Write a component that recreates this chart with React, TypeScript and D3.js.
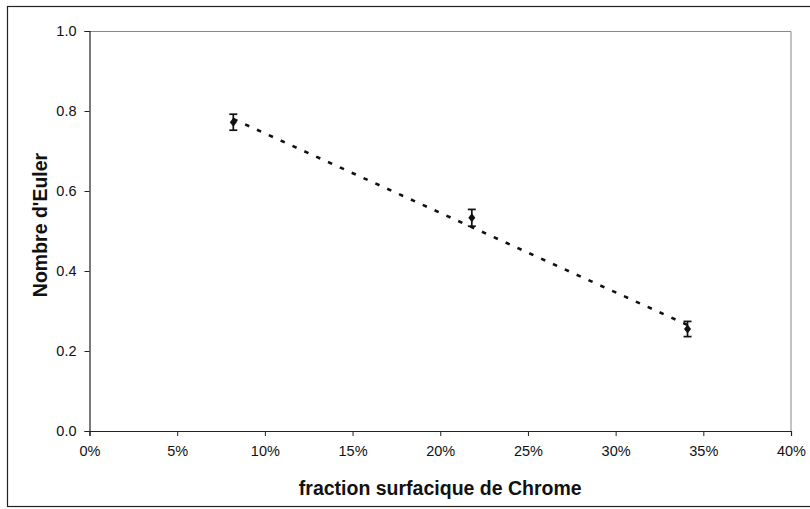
import { useEffect, useRef } from 'react'
import * as d3 from 'd3'

// measured points (fraction surfacique, nombre d'Euler, error)
const fractions = [0.082, 0.218, 0.341]
const eulerValues = [0.772, 0.533, 0.255]
const errors = [0.02, 0.021, 0.019]

// dotted trend line ends
const trendX = [0.082, 0.341]
const trendY = [0.78, 0.265]

const xTicks = [0, 0.05, 0.1, 0.15, 0.2, 0.25, 0.3, 0.35, 0.4]
const yTicks = [0, 0.2, 0.4, 0.6, 0.8, 1.0]

const App = () => {
  const svgRef = useRef<SVGSVGElement | null>(null)

  useEffect(() => {
    if (!svgRef.current) return
    const svg = d3.select(svgRef.current)
    svg.selectAll('*').remove()

    const width = 810
    const height = 509
    const margin = { top: 31, right: 19, bottom: 78, left: 89.5 }
    const innerW = width - margin.left - margin.right
    const innerH = height - margin.top - margin.bottom

    svg.attr('width', width).attr('height', height)

    svg.append('rect')
      .attr('width', width).attr('height', height)
      .attr('fill', 'white')

    // outer chart frame
    svg.append('rect')
      .attr('x', 7.5).attr('y', 6.5)
      .attr('width', 812).attr('height', 500)
      .attr('fill', 'none')
      .attr('stroke', '#222')
      .attr('stroke-width', 1.2)

    const g = svg.append('g')
      .attr('transform', `translate(${margin.left},${margin.top})`)

    const x = d3.scaleLinear().domain([0, 0.4]).range([0, innerW])
    const y = d3.scaleLinear().domain([0, 1]).range([innerH, 0])

    // plot area border (top/right gray)
    g.append('path')
      .attr('d', `M0,0.5H${innerW}V${innerH}`)
      .attr('fill', 'none')
      .attr('stroke', '#888')
      .attr('stroke-width', 1)

    const font = 'Liberation Sans, Arial, Helvetica, sans-serif'

    // x axis
    const xAxis = d3.axisBottom(x)
      .tickValues(xTicks)
      .tickFormat(d3.format('.0%'))
      .tickSize(5)
      .tickPadding(10)
    const gx = g.append('g')
      .attr('transform', `translate(0,${innerH})`)
      .call(xAxis)
    gx.select('.domain').attr('stroke', '#222').attr('stroke-width', 1.2)
    gx.selectAll('.tick line').attr('stroke', '#222')
    gx.selectAll('.tick text')
      .attr('font-family', font)
      .attr('font-size', 14.5)
      .attr('fill', '#111')

    // y axis
    const yAxis = d3.axisLeft(y)
      .tickValues(yTicks)
      .tickFormat(d3.format('.1f'))
      .tickSize(5)
      .tickPadding(8)
    const gy = g.append('g').call(yAxis)
    gy.select('.domain').attr('stroke', '#222').attr('stroke-width', 1.2)
    gy.selectAll('.tick line').attr('stroke', '#222')
    gy.selectAll('.tick text')
      .attr('font-family', font)
      .attr('font-size', 14.5)
      .attr('fill', '#111')

    // trend line
    const line = d3.line<number>()
      .x((_, i) => x(trendX[i]))
      .y((d) => y(d))
    g.append('path')
      .datum(trendY)
      .attr('d', line)
      .attr('fill', 'none')
      .attr('stroke', '#111')
      .attr('stroke-width', 2.6)
      .attr('stroke-dasharray', '4.5,8.5')

    // error bars
    const pts = fractions.map((f, i) => ({ f, v: eulerValues[i], e: errors[i] }))
    const eb = g.selectAll('g.eb').data(pts).join('g').attr('class', 'eb')
    eb.append('line')
      .attr('x1', (d) => x(d.f)).attr('x2', (d) => x(d.f))
      .attr('y1', (d) => y(d.v + d.e)).attr('y2', (d) => y(d.v - d.e))
      .attr('stroke', '#111').attr('stroke-width', 1.7)
    eb.append('line')
      .attr('x1', (d) => x(d.f) - 4).attr('x2', (d) => x(d.f) + 4)
      .attr('y1', (d) => y(d.v + d.e)).attr('y2', (d) => y(d.v + d.e))
      .attr('stroke', '#111').attr('stroke-width', 1.7)
    eb.append('line')
      .attr('x1', (d) => x(d.f) - 4).attr('x2', (d) => x(d.f) + 4)
      .attr('y1', (d) => y(d.v - d.e)).attr('y2', (d) => y(d.v - d.e))
      .attr('stroke', '#111').attr('stroke-width', 1.7)

    // diamond markers
    g.selectAll('path.pt')
      .data(pts)
      .join('path')
      .attr('class', 'pt')
      .attr('d', 'M0,-4.5L3.5,0L0,4.5L-3.5,0Z')
      .attr('transform', (d) => `translate(${x(d.f)},${y(d.v)})`)
      .attr('fill', '#111')

    // axis titles
    svg.append('text')
      .attr('x', margin.left + innerW / 2)
      .attr('y', 495)
      .attr('text-anchor', 'middle')
      .attr('font-family', font)
      .attr('font-weight', 'bold')
      .attr('font-size', 19.5)
      .attr('fill', '#111')
      .text('fraction surfacique de Chrome')

    svg.append('text')
      .attr('transform', `translate(47,${margin.top + innerH / 2 - 6}) rotate(-90)`)
      .attr('text-anchor', 'middle')
      .attr('font-family', font)
      .attr('font-weight', 'bold')
      .attr('font-size', 19.5)
      .attr('fill', '#111')
      .text("Nombre d'Euler")
  }, [])

  return (
    <svg ref={svgRef} style={{ position: 'absolute', left: 0, top: 0 }}></svg>
  )
}

export default App
